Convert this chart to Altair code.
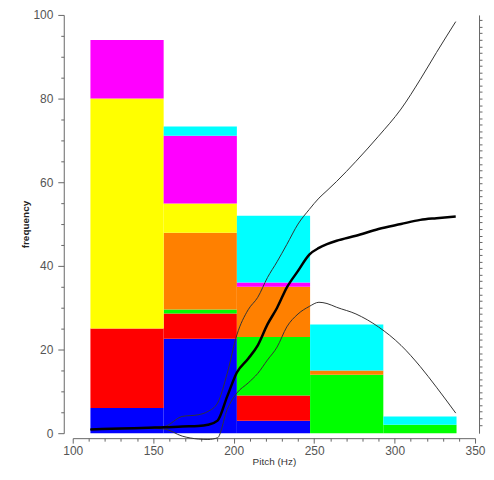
import altair as alt
import pandas as pd

# ---- histogram data (stacked by class) ----
bin_lo = [111, 156.5, 202, 247.5, 293]
bin_hi = [156.5, 202, 247.5, 293, 338.5]
categories = ["blue", "red", "green", "orange", "yellow", "magenta", "cyan"]
colors = ["#0000ff", "#ff0000", "#00ff00", "#ff8000", "#ffff00", "#ff00ff", "#00ffff"]
counts_blue = [6, 22.6, 3, 0, 0]
counts_red = [19, 6, 6, 0, 0]
counts_green = [0, 1, 14, 14, 2]
counts_orange = [0, 18.3, 12, 1, 0]
counts_yellow = [55, 7, 0, 0, 0]
counts_magenta = [14, 16.2, 1, 0, 0]
counts_cyan = [0, 2.2, 16, 11, 2]

# ---- curves ----
pitch = [111, 130, 147, 157, 168, 178, 184, 190, 196, 202, 209, 215, 221, 227,
         233, 240, 247, 253, 258, 264, 276, 290, 304, 316, 326, 338]
mean_curve = [0.9, 1.1, 1.3, 1.4, 1.6, 1.7, 2.0, 3.0, 8.8, 14.5, 17.8, 21.0, 26.0, 30.0,
              34.8, 38.8, 42.7, 44.3, 45.2, 46.0, 47.2, 48.8, 50.0, 51.0, 51.4, 51.8]
upper_curve = [0.9, 1.1, 1.3, 1.6, 4.0, 4.4, 5.2, 7.2, 14.3, 23.5, 29.5, 32.5, 37.2, 41.0,
               45.1, 50.0, 53.5, 56.2, 58.0, 60.2, 65.0, 71.0, 77.5, 84.6, 91.0, 98.4]
lower_curve = [0.9, 1.1, 1.2, 1.0, -0.7, -1.4, -1.5, -1.1, 5.7, 9.6, 12.0, 14.3, 17.5, 20.6,
               25.4, 28.5, 30.3, 31.3, 31.0, 30.1, 28.5, 25.4, 21.0, 15.9, 11.0, 4.8]

x_ticks = list(range(100, 351, 10))
y_ticks = list(range(0, 101, 5))
right_ticks = [round(2 + 1.56 * i, 2) for i in range(63)]

all_counts = [counts_blue, counts_red, counts_green, counts_orange,
              counts_yellow, counts_magenta, counts_cyan]
rows = []
base = [0.0] * len(bin_lo)
for k, (cat, cnts) in enumerate(zip(categories, all_counts)):
    for i, (lo, hi, c) in enumerate(zip(bin_lo, bin_hi, cnts)):
        if c > 0:
            rows.append({"lo": lo, "hi": hi, "cat": cat, "y0": base[i], "y1": base[i] + c})
        base[i] += c
bar_df = pd.DataFrame(rows)

band_rows = []
for name, vals in [("upper", upper_curve), ("lower", lower_curve)]:
    for p, v in zip(pitch, vals):
        band_rows.append({"pitch": p, "value": v, "series": name})
band_df = pd.DataFrame(band_rows)
mean_df = pd.DataFrame({"pitch": pitch, "value": mean_curve})

FONT = "Liberation Sans"
xscale = alt.Scale(domain=[100, 350], nice=False, zero=False)
yscale = alt.Scale(domain=[0, 100], nice=False)

xaxis = alt.Axis(
    values=x_ticks,
    labelExpr="datum.value % 50 === 0 ? datum.label : ''",
    tickSize={"condition": {"test": "datum.value % 50 === 0", "value": 5}, "value": 3},
    offset=5, grid=False, title="Pitch (Hz)", titleFontWeight="normal",
    titleFontSize=10, titleColor="#333", titlePadding=0, titleFont=FONT,
    labelFont=FONT, labelFontSize=12, labelColor="#555", labelPadding=2,
    domainColor="#666", tickColor="#666", labelFlush=False, labelOverlap=False,
)
yaxis = alt.Axis(
    values=y_ticks,
    labelExpr="datum.value % 20 === 0 ? datum.label : ''",
    tickSize={"condition": {"test": "datum.value % 20 === 0", "value": 6}, "value": 3},
    offset=9, grid=False, title="frequency", titleFontWeight="bold",
    titleFontSize=10, titleColor="#222", titlePadding=2, titleFont=FONT,
    labelFont=FONT, labelFontSize=12, labelColor="#555", labelPadding=5,
    domainColor="#666", tickColor="#666", labelFlush=False, labelOverlap=False,
)
raxis = alt.Axis(
    orient="right", values=right_ticks, labels=False, title=None, grid=False,
    offset=4, tickSize=3, domainColor="#666", tickColor="#666",
)

bars = alt.Chart(bar_df).mark_rect().encode(
    x=alt.X("lo:Q", scale=xscale, axis=xaxis),
    x2="hi:Q",
    y=alt.Y("y0:Q", scale=yscale, axis=yaxis),
    y2="y1:Q",
    color=alt.Color("cat:N", scale=alt.Scale(domain=categories, range=colors), legend=None),
)

bands = alt.Chart(band_df).mark_line(interpolate="monotone", color="#333", strokeWidth=1).encode(
    x=alt.X("pitch:Q", scale=xscale, axis=xaxis),
    y=alt.Y("value:Q", scale=yscale, axis=None),
    detail="series:N",
)

mean_line = alt.Chart(mean_df).mark_line(interpolate="monotone", color="#000", strokeWidth=2.5).encode(
    x=alt.X("pitch:Q", scale=xscale, axis=xaxis),
    y=alt.Y("value:Q", scale=yscale, axis=raxis),
)

chart = alt.layer(bars, bands, mean_line).resolve_axis(y="independent").properties(
    width=404, height=420,
    padding={"left": 12, "top": 0, "right": 0, "bottom": 0},
).configure_view(stroke=None)

chart.save("out.html", embed_options={"renderer": "svg", "actions": False})
